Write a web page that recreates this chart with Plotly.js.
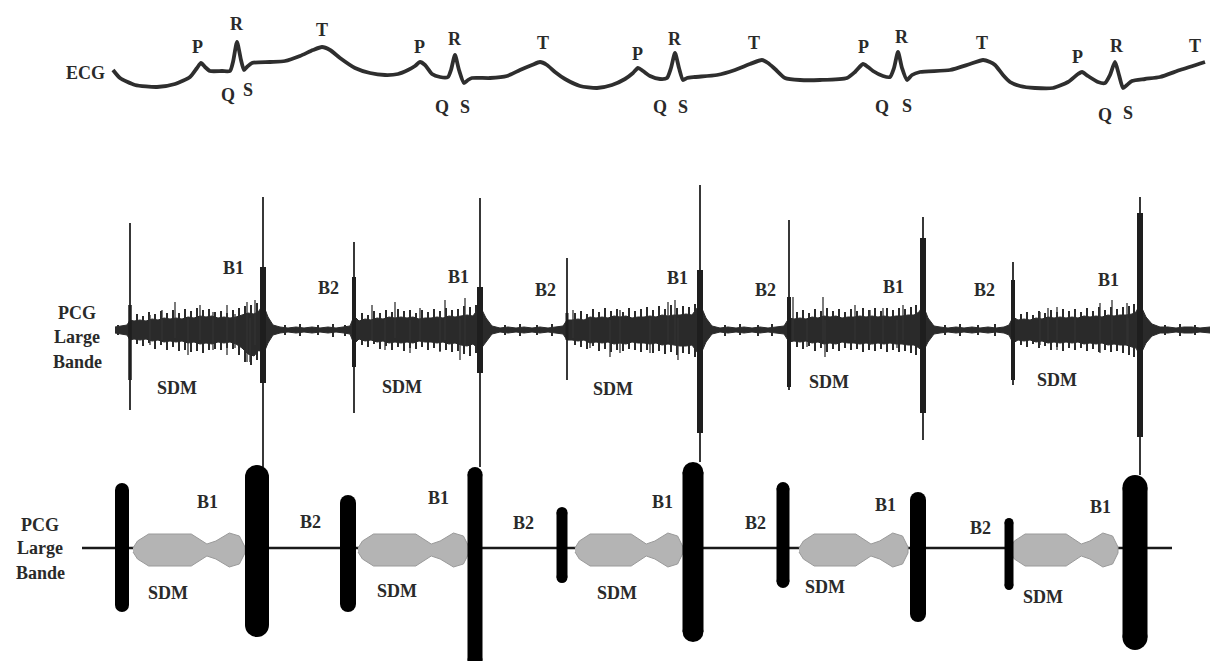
<!DOCTYPE html>
<html><head><meta charset="utf-8">
<script src="https://cdn.plot.ly/plotly-3.0.1.min.js"></script>
<style>html,body{margin:0;padding:0;background:#fff}#chart{width:1212px;height:661px}</style>
</head><body><div id="chart"></div>
<script>
// ---------- ECG trace ----------
const ecgX = [113,120,135,157,175,190,197,201,205,210,222,230,233,237,241,244,247,252,270,285,300,313,322,330,340,355,370,385,398,408,415,420,425,432,440,448,451,455,459,464,468,472,490,507,520,532,540,547,555,565,580,597,612,625,633,638,643,650,660,667,671,675,679,683,687,695,717,735,750,762,768,775,785,800,820,847,855,863,868,873,883,890,894,898,902,907,912,920,950,970,983,990,995,1003,1010,1020,1035,1053,1068,1078,1082,1088,1098,1105,1110,1115,1119,1123,1127,1132,1145,1160,1180,1205];
const ecgY = [70,78,85,87,84,77,68,63,67,71,71,71,62,42,60,70,67,63,62,61,56,50,47,50,58,68,73,75,74,70,66,62,65,74,77,77,70,55,70,83,80,78,78,76,70,65,62,65,72,79,86,88,85,79,73,68,71,76,79,78,68,53,68,80,78,77,75,70,64,60,63,69,78,80,80,78,72,64,67,71,76,77,68,52,68,80,75,72,70,64,60,62,65,75,82,86,88,88,82,74,72,76,82,83,75,62,75,88,85,81,79,77,70,62];
const waveText = ['P','R','T','Q','S','P','R','T','Q','S','P','R','T','Q','S','P','R','T','Q','S','P','R','T','Q','S'];
const waveX = [197,237,322,228,248, 419,455,543,442,465, 637,675,754,660,683, 863,902,982,882,907, 1077,1117,1195,1105,1128];
const waveY = [47,24,30,95,90, 47,39,43,107,107, 54,39,43,107,107, 47,37,43,107,106, 57,46,46,115,113];

// ---------- PCG wide-band signal (envelope) ----------
const pcgX = [115,121,127,130,134,140,146,152,158,164,170,176,182,188,194,200,206,212,218,224,230,236,242,248,254,259,263,268,273,
 280,288,296,304,312,320,328,336,344,350,354,
 359,365,371,377,383,389,395,401,407,413,419,425,431,437,443,449,455,461,467,473,480,486,492,
 500,508,516,524,532,540,548,556,563,567,
 572,578,584,590,596,602,608,614,620,626,632,638,644,650,656,662,668,674,680,686,692,700,706,712,
 720,728,736,744,752,760,768,776,784,789,
 794,800,806,812,818,824,830,836,842,848,854,860,866,872,878,884,890,896,902,908,914,919,923,928,934,
 940,948,956,964,972,980,988,996,1004,1009,1013,
 1018,1024,1030,1036,1042,1048,1054,1060,1066,1072,1078,1084,1090,1096,1102,1108,1114,1120,1126,1132,1136,1140,1146,1152,
 1160,1168,1176,1184,1192,1200,1210];
const pcgHi = [327,326,325,320,321,320,321,319,320,318,319,318,319,317,318,316,317,316,318,317,318,317,315,313,314,311,304,317,325,
 327,328,327,328,327,328,327,328,327,326,316,
 321,319,320,318,319,317,318,317,318,317,319,318,318,317,318,316,317,316,315,316,306,318,326,
 328,327,328,327,328,327,328,327,326,320,
 320,319,320,317,318,317,318,316,317,316,318,317,317,316,317,315,316,315,315,314,315,304,318,326,
 328,327,328,327,328,327,328,327,326,318,
 319,318,319,317,318,316,317,316,318,317,317,316,317,316,317,316,317,316,316,315,315,312,305,318,326,
 327,328,327,328,327,328,327,328,327,325,317,
 320,319,320,318,319,317,318,317,318,317,318,316,317,316,317,315,316,315,315,314,312,304,317,324,
 327,327,328,327,327,328,327];
const pcgLo = [333,334,335,340,339,340,339,341,340,342,341,342,341,343,342,344,343,344,342,343,342,344,348,354,356,350,355,343,335,
 333,332,333,332,333,332,333,332,333,334,344,
 339,341,340,342,341,343,342,343,342,343,341,342,342,343,342,344,343,345,346,344,350,342,334,
 332,333,332,333,332,333,332,333,334,340,
 340,341,340,343,342,343,342,344,343,344,342,343,343,344,343,345,344,345,346,346,345,356,342,334,
 332,333,332,333,332,333,332,333,334,342,
 341,342,341,343,342,344,343,344,342,343,343,344,343,344,343,344,343,344,344,345,345,348,352,342,334,
 333,332,333,332,333,332,333,332,333,335,343,
 340,341,340,342,341,343,342,343,342,343,342,344,343,344,343,345,344,345,345,347,348,356,343,336,
 333,333,332,333,333,332,333];
// short hairs that make the rough edge of the signal band
const hairX = [118,137,143,149,155,161,167,173,179,185,191,197,203,209,215,221,227,233,239,245,251,257,
 285,300,318,333,345,
 362,368,374,380,386,392,398,404,410,416,422,428,434,440,446,452,458,464,470,476,
 505,520,537,552,
 575,581,587,593,599,605,611,617,623,629,635,641,647,653,659,665,671,677,683,689,695,
 725,740,758,772,
 797,803,809,815,821,827,833,839,845,851,857,863,869,875,881,887,893,899,905,911,916,
 945,960,978,995,
 1021,1027,1033,1039,1045,1051,1057,1063,1069,1075,1081,1087,1093,1099,1105,1111,1117,1123,1129,1134,
 1165,1180,1195];
const hairTop = [325,314,316,312,314,311,313,310,313,309,311,308,310,309,312,311,313,310,308,306,305,303,
 325,324,325,324,325,
 313,315,311,313,310,312,309,311,310,313,310,312,309,311,308,310,309,306,307,305,
 325,324,325,324,
 313,311,314,309,312,308,311,309,312,308,311,309,307,310,306,309,305,308,306,307,304,
 325,324,325,324,
 312,310,313,309,311,308,311,309,312,309,311,308,310,308,311,308,310,308,309,307,305,
 325,324,325,324,
 314,312,315,311,313,310,312,309,311,309,312,308,311,307,310,307,309,307,306,304,
 325,324,325];
const hairBot = [335,344,346,343,349,345,350,347,351,350,352,351,353,350,349,350,348,349,355,362,365,360,
 335,336,335,337,336,
 345,347,344,349,346,350,347,351,348,349,347,350,348,351,350,352,351,354,356,353,
 335,336,335,336,
 345,347,349,346,351,349,352,350,351,349,350,352,350,353,351,354,352,355,353,354,357,
 336,335,336,336,
 347,349,346,351,348,352,349,351,348,350,349,352,350,351,349,352,350,352,351,353,355,
 335,336,335,336,
 345,347,344,348,346,350,347,351,348,350,348,351,349,352,350,352,351,353,355,357,
 335,336,335];
// taller isolated spikes inside the murmur (SDM) zones
const minorX   = [150,162,175,188,200,213,227,235,247,250,255, 372,385,395,410,420,440,445,460,465, 573,590,610,620,650,668,675,678, 793,807,823,825,855,870,883,897,903, 1040,1048,1057,1075,1100,1112,1127,1128];
const minorTop = [315,310,302,318,305,312,305,314,302,318,300, 305,318,302,320,308,315,300,318,298, 310,318,320,310,318,302,300,318, 297,320,297,320,305,310,308,320,305, 312,308,307,312,303,300,303,318];
const minorBot = [345,340,338,355,340,350,355,348,362,362,345, 340,350,338,353,340,352,340,360,345, 338,348,357,353,353,342,345,360, 340,347,340,357,340,345,342,348,340, 345,340,350,345,353,340,345,345];
// heart sounds B1 / B2 peaks
const spikeX   = [130,263,354,480,567,700,789,923,1013,1140];
const spikeTop = [223,197,242,198,258,185,220,217,262,197];
const spikeBot = [410,467,413,467,380,462,390,440,385,475];
const coreTop  = [305,267,277,287,313,270,297,238,280,213];
const coreBot  = [380,383,367,373,340,433,387,413,380,437];
const coreW    = [3.5,6,4,6,3,6,4,6,4,6];

// ---------- schematic (bottom) ----------
const axisX = [82,1172];
const axisY = [548,548];
const soundX   = [122,257,348,475,562,693,783,918,1009,1135];
const soundTop = [483,465,495,467,507,462,482,492,518,475];
const soundBot = [612,637,612,668,583,642,588,622,590,650];
const soundW   = [14,24,16,15,11,21,13,16,9,25];
const sdmStart = [133,358,575,799,1010];
const sdmEnd   = [245,469,683,908,1118];
const sdmFrac  = [0,0.04,0.14,0.52,0.66,0.74,0.86,0.95,1.0];
const sdmHalf  = [2,9,16,16,6,9,17,14,3];
const sdmMid = 550;

// ---------- labels ----------
const sideText = ['ECG','PCG','Large','Bande','PCG','Large','Bande'];
const sideX = [85,77,77,77,40,40,40];
const sideY = [73,313,337,362,525,548,573];
const pcgLabText = ['B1','B1','B1','B1','B1','B2','B2','B2','B2','SDM','SDM','SDM','SDM','SDM'];
const pcgLabX = [233,458,677,893,1108, 328,545,765,984, 177,402,613,829,1057];
const pcgLabY = [268,277,278,287,280, 288,290,290,290, 388,387,389,382,380];
const schLabText = ['B1','B1','B1','B1','B1','B2','B2','B2','B2','SDM','SDM','SDM','SDM','SDM'];
const schLabX = [207,438,662,885,1100, 310,523,755,980, 168,397,617,825,1043];
const schLabY = [502,498,502,505,507, 522,523,523,528, 593,591,593,587,597];

// ---------- build traces ----------
const traces = [];
const skip = {hoverinfo:'skip'};
traces.push({type:'scatter',mode:'lines',x:ecgX,y:ecgY,line:{color:'#2e2e2e',width:3.8,shape:'spline',smoothing:0.6},...skip});
traces.push({type:'scatter',mode:'lines',x:pcgX,y:pcgHi,line:{color:'#2a2a2a',width:1},...skip});
traces.push({type:'scatter',mode:'lines',x:pcgX,y:pcgLo,fill:'tonexty',fillcolor:'#2a2a2a',line:{color:'#2a2a2a',width:1},...skip});
function segs(xs, t, b){const X=[],Y=[];xs.forEach((x,i)=>{X.push(x,x,null);Y.push(t[i],b[i],null);});return {X,Y};}
let s = segs(hairX,hairTop,hairBot);
traces.push({type:'scatter',mode:'lines',x:s.X,y:s.Y,line:{color:'#2a2a2a',width:2},...skip});
s = segs(minorX,minorTop,minorBot);
traces.push({type:'scatter',mode:'lines',x:s.X,y:s.Y,line:{color:'#333',width:1.3},...skip});
s = segs(spikeX,spikeTop,spikeBot);
traces.push({type:'scatter',mode:'lines',x:s.X,y:s.Y,line:{color:'#222',width:1.8},...skip});
spikeX.forEach((x,i)=>traces.push({type:'scatter',mode:'lines',x:[x,x],y:[coreTop[i],coreBot[i]],line:{color:'#1e1e1e',width:coreW[i]},...skip}));
// schematic axis
traces.push({type:'scatter',mode:'lines',x:axisX,y:axisY,line:{color:'#1a1a1a',width:2.5},...skip});
// SDM blobs
sdmStart.forEach((x0,k)=>{
  const L = sdmEnd[k]-x0, X=[], Y=[];
  sdmFrac.forEach((f,i)=>{X.push(x0+f*L);Y.push(sdmMid-sdmHalf[i]);});
  for(let i=sdmFrac.length-1;i>=0;i--){X.push(x0+sdmFrac[i]*L);Y.push(sdmMid+sdmHalf[i]);}
  traces.push({type:'scatter',mode:'lines',x:X,y:Y,fill:'toself',fillcolor:'#b4b4b4',line:{color:'#9a9a9a',width:1},...skip});
});
// heart-sound bars: capsules = thick line + round end markers
soundX.forEach((x,i)=>{
  const w = soundW[i];
  traces.push({type:'scatter',mode:'lines+markers',x:[x,x],y:[soundTop[i]+w/2,soundBot[i]-w/2],
    line:{color:'#000',width:w},marker:{color:'#000',size:w,line:{width:0}},...skip});
});

const annotations = [];
const fnt = {family:'"Liberation Serif","Times New Roman",serif',size:18,color:'#2a2a2a'};
function addLabels(t,xs,ys){t.forEach((txt,i)=>annotations.push({x:xs[i],y:ys[i],xref:'x',yref:'y',text:'<b>'+txt+'</b>',showarrow:false,font:fnt,xanchor:'center',yanchor:'middle'}));}
addLabels(waveText,waveX,waveY);
addLabels(sideText,sideX,sideY);
addLabels(pcgLabText,pcgLabX,pcgLabY);
addLabels(schLabText,schLabX,schLabY);

const layout = {
  width:1212,height:661,margin:{l:0,r:0,t:0,b:0},
  paper_bgcolor:'#fff',plot_bgcolor:'#fff',showlegend:false,
  xaxis:{range:[0,1212],visible:false,fixedrange:true},
  yaxis:{range:[661,0],visible:false,fixedrange:true},
  annotations:annotations
};
Plotly.newPlot('chart',traces,layout,{staticPlot:true,displayModeBar:false});
</script></body></html>
